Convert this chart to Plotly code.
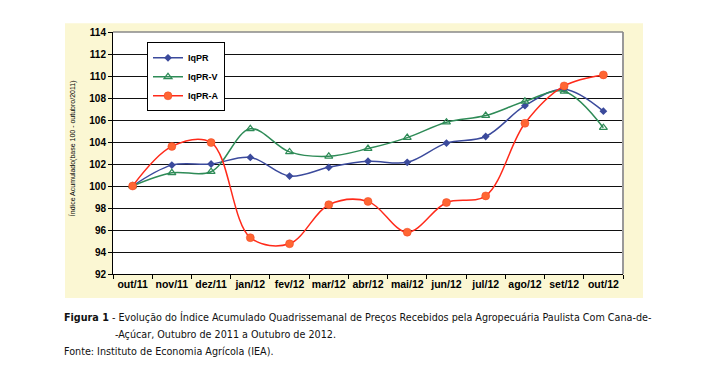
import plotly.graph_objects as go

months = ["out/11", "nov/11", "dez/11", "jan/12", "fev/12", "mar/12", "abr/12",
          "mai/12", "jun/12", "jul/12", "ago/12", "set/12", "out/12"]
iqpr = [100.0, 101.9, 102.0, 102.6, 100.9, 101.7, 102.25, 102.15, 103.9, 104.5, 107.3, 108.8, 106.8]
iqpr_v = [100.0, 101.2, 101.3, 105.2, 103.1, 102.7, 103.4, 104.4, 105.8, 106.4, 107.7, 108.6, 105.3]
iqpr_a = [100.0, 103.6, 103.95, 95.3, 94.75, 98.3, 98.6, 95.8, 98.5, 99.1, 105.7, 109.1, 110.1]
y_ticks = [92, 94, 96, 98, 100, 102, 104, 106, 108, 110, 112, 114]

W, H = 712, 385
OFF = 8  # page body margin
L, R, T, B = 113 - OFF, 623 - OFF, 31.7 - OFF, 274.0 - OFF
pw, ph = R - L, B - T

def px(x):
    return (x - OFF - L) / pw

def py(y):
    return (B - (y - OFF)) / ph

fig = go.Figure()
fig.add_trace(go.Scatter(
    x=months, y=iqpr, name="IqPR", mode="lines+markers", legendgroup="a",
    line=dict(color="#3B4A9C", width=1.5, shape="spline", smoothing=1),
    marker=dict(symbol="diamond", size=6, color="#3B4A9C")))
fig.add_trace(go.Scatter(
    x=months, y=iqpr_v, name="IqPR-V", mode="lines+markers", legendgroup="b",
    line=dict(color="#2E8B57", width=1.5, shape="spline", smoothing=1),
    marker=dict(symbol="triangle-up-open", size=7, color="#2E8B57", line=dict(width=1.2))))
fig.add_trace(go.Scatter(
    x=months, y=iqpr_a, name="IqPR-A", mode="lines+markers", legendgroup="c",
    line=dict(color="#FF2A1A", width=1.5, shape="spline", smoothing=1),
    marker=dict(symbol="circle", size=8, color="#FF6633", line=dict(color="#F04020", width=0.5))))

fig.add_shape(type="rect", xref="paper", yref="paper",
              x0=px(65), x1=px(643), y0=py(298), y1=py(23),
              fillcolor="#FBF7D3", line=dict(width=0), layer="below")
fig.add_shape(type="rect", xref="paper", yref="paper",
              x0=0, x1=1, y0=0, y1=1,
              fillcolor="white", line=dict(width=0), layer="below")

fig.add_annotation(xref="paper", yref="paper", x=px(72), y=py(148),
                   text="Índice Acumulado(base 100 - outubro/2011)", textangle=-90,
                   showarrow=False, font=dict(family="Arial", size=7, color="black"),
                   xanchor="center", yanchor="middle")

cap_font = dict(family="DejaVu Sans Condensed, Liberation Sans Narrow, sans-serif", size=10.7, color="#111111")
fig.add_annotation(xref="paper", yref="paper", x=px(62), y=py(318),
                   text="<b>Figura 1</b> - Evolução do Índice Acumulado Quadrissemanal de Preços Recebidos pela Agropecuária Paulista Com Cana-de-",
                   showarrow=False, font=cap_font, xanchor="left", yanchor="middle")
fig.add_annotation(xref="paper", yref="paper", x=px(113), y=py(335),
                   text="-Açúcar, Outubro de 2011 a Outubro de 2012.",
                   showarrow=False, font=cap_font, xanchor="left", yanchor="middle")
fig.add_annotation(xref="paper", yref="paper", x=px(62), y=py(352),
                   text="Fonte: Instituto de Economia Agrícola (IEA).",
                   showarrow=False, font=cap_font, xanchor="left", yanchor="middle")

fig.update_layout(
    width=W, height=H,
    margin=dict(l=L, r=W - R, t=T, b=H - B, pad=0),
    paper_bgcolor="white", plot_bgcolor="white",
    showlegend=True,
    legend=dict(x=px(147), y=py(42), xanchor="left", yanchor="top",
                bgcolor="white", bordercolor="black", borderwidth=1,
                font=dict(family="Arial", size=9, color="black", weight="bold"),
                tracegroupgap=0, itemwidth=30, entrywidth=82, entrywidthmode="pixels"),
    xaxis=dict(type="category", categoryorder="array", categoryarray=months,
               tickson="boundaries", ticks="outside", ticklen=4, tickcolor="black",
               showline=True, linecolor="black", linewidth=1, showgrid=False,
               mirror=False, range=[-0.5, 12.5], tickangle=0,
               tickfont=dict(family="Arial", size=10.5, color="black", weight="bold")),
    yaxis=dict(range=[92, 114], tickvals=y_ticks, ticks="outside", ticklen=4, tickcolor="black",
               showline=True, linecolor="black", linewidth=1,
               showgrid=True, gridcolor="#111111", gridwidth=1, zeroline=False,
               tickfont=dict(family="Arial", size=10, color="black", weight="bold")),
)
fig.add_shape(type="line", xref="paper", yref="paper", x0=1, x1=1, y0=0, y1=1,
              line=dict(color="#999999", width=2))
fig.add_shape(type="line", xref="paper", yref="paper", x0=0, x1=1, y0=1, y1=1,
              line=dict(color="#888888", width=1.5))

fig.write_html("out.html")
